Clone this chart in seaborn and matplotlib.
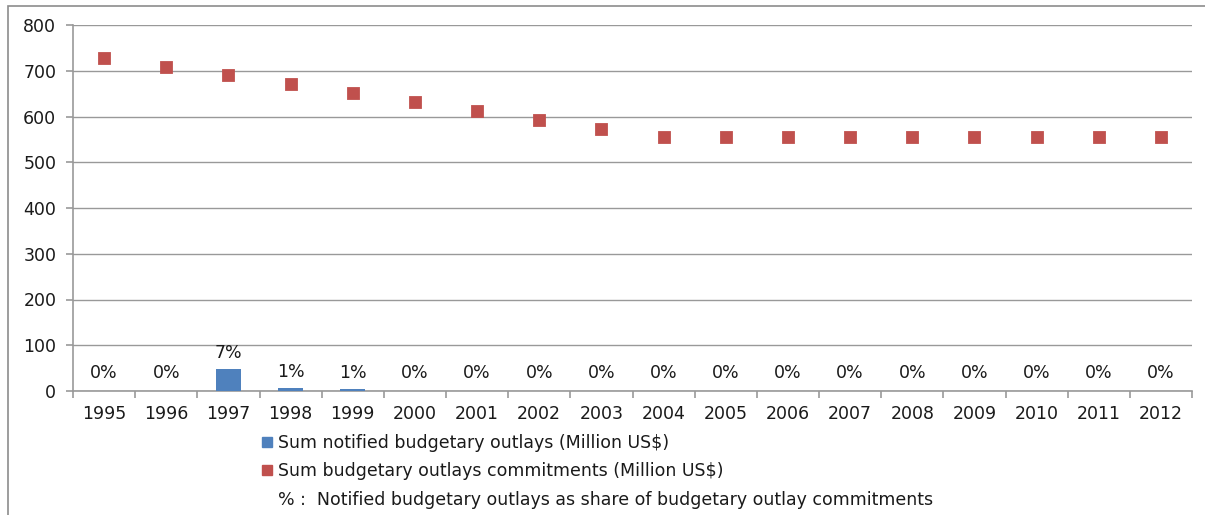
import matplotlib
matplotlib.use("Agg")
import matplotlib.pyplot as plt
import seaborn as sns
import pandas as pd
from matplotlib.lines import Line2D
from matplotlib.patches import Rectangle

years = [str(y) for y in range(1995, 2013)]
notified = [0, 0, 47, 6, 4, 0, 0, 0, 0, 0, 0, 0, 0, 0, 0, 0, 0, 0]
commitments = [728, 708, 690, 670, 651, 632, 612, 592, 573, 555, 555, 555, 555, 555, 555, 555, 555, 555]
share_labels = ["0%", "0%", "7%", "1%", "1%", "0%", "0%", "0%", "0%", "0%",
                "0%", "0%", "0%", "0%", "0%", "0%", "0%", "0%"]

BLUE = "#4F81BD"
RED = "#C0504D"
GRID = "#999999"
TXT = "#1a1a1a"

sns.set_theme(style="white")
plt.rcParams["font.family"] = ["DejaVu Sans"]

df = pd.DataFrame({"year": years, "notified": notified, "commit": commitments})

fig = plt.figure(figsize=(12.05, 5.15), dpi=100)
ax = fig.add_axes([73 / 1205, 1 - 391 / 515, (1192 - 73) / 1205, (391 - 25) / 515])

sns.barplot(data=df, x="year", y="notified", color=BLUE, width=0.4,
            saturation=1, linewidth=0, ax=ax, zorder=3)
sns.pointplot(data=df, x="year", y="commit", color=RED, markers="s",
              linestyle="none", errorbar=None, markersize=7.5, ax=ax, zorder=4)

for i, (v, lab) in enumerate(zip(notified, share_labels)):
    off = 13 if v == 0 else 12
    ax.annotate(lab, xy=(i, v), xytext=(0, off), textcoords="offset points",
                ha="center", va="center", fontsize=12.5, color=TXT)

ax.set_ylim(0, 800)
ax.set_xlim(-0.5, len(years) - 0.5)
ax.set_yticks(range(0, 801, 100))
ax.yaxis.grid(True, color=GRID, linewidth=1.0, zorder=0)
ax.set_axisbelow(True)
ax.set_xlabel("")
ax.set_ylabel("")

for s in ["top", "right"]:
    ax.spines[s].set_visible(False)
for s in ["left", "bottom"]:
    ax.spines[s].set_color(GRID)
    ax.spines[s].set_linewidth(1.2)

ax.tick_params(axis="y", which="major", left=True, length=5, width=1.2,
               color=GRID, labelsize=12.5, pad=7, labelcolor=TXT)
ax.tick_params(axis="x", which="major", bottom=False, labelsize=12.5,
               pad=4, labelcolor=TXT)
ax.set_xticks(range(len(years)))
ax.set_xticklabels(years)
ax.set_xticks([i - 0.5 for i in range(len(years) + 1)], minor=True)
ax.tick_params(axis="x", which="minor", bottom=True, length=5, width=1.2,
               color=GRID)

handles = [
    Line2D([], [], marker="s", linestyle="none", color=BLUE, markersize=7),
    Line2D([], [], marker="s", linestyle="none", color=RED, markersize=7),
    Line2D([], [], linestyle="none", marker=None),
]
labels = [
    "Sum notified budgetary outlays (Million US$)",
    "Sum budgetary outlays commitments (Million US$)",
    "% :  Notified budgetary outlays as share of budgetary outlay commitments",
]
fig.legend(handles, labels, loc="upper left",
           bbox_to_anchor=(262 / 1205, 1 - 434 / 515), frameon=False,
           fontsize=12.5, handlelength=0.6, handletextpad=0.3,
           labelspacing=0.6, borderpad=0, borderaxespad=0, labelcolor=TXT)

fig.patches.append(Rectangle((8 / 1205, -0.1), 1.2, 1.1 - 6 / 515,
                             transform=fig.transFigure, fill=False,
                             edgecolor="#8c8c8c", linewidth=1.2))

fig.savefig("out.png", dpi=100)
